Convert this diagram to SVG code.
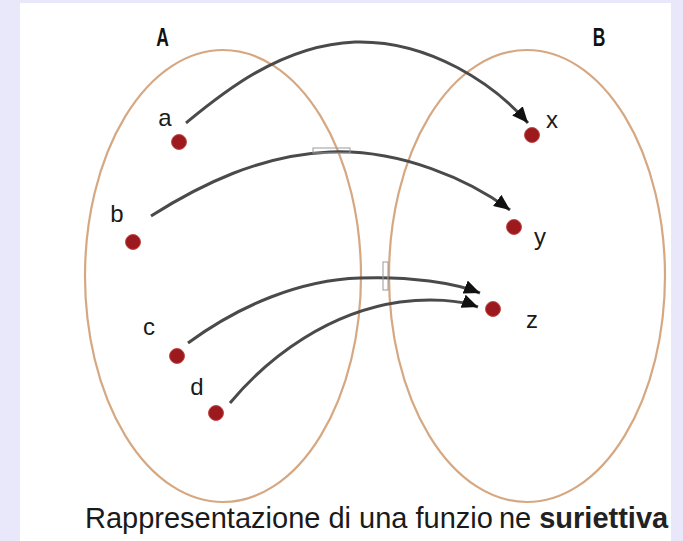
<svg xmlns="http://www.w3.org/2000/svg" width="683" height="541" viewBox="0 0 683 541">
<style>
.set{fill:none;stroke:#d6a882;stroke-width:2.2}
.lbl{font-family:"Liberation Sans",Arial,sans-serif;font-size:24px;fill:#1a1a1a;text-anchor:middle}
.setlbl{font-family:"Liberation Sans",Arial,sans-serif;font-size:25px;font-weight:bold;fill:#111;text-anchor:middle}
.dot{fill:#9c1a1e;stroke:#c24a4a;stroke-width:1}
.arr{fill:none;stroke:#4a4a4a;stroke-width:3;marker-end:url(#ah)}
.art{fill:none;stroke:#9a9a9a;stroke-width:1}
</style>
<defs>
<marker id="ah" markerUnits="userSpaceOnUse" markerWidth="18" markerHeight="14" refX="16" refY="7" orient="auto">
<path d="M0,0 L16,7 L0,14 Z" fill="#111"/>
</marker>
</defs>
<rect x="0" y="0" width="683" height="541" fill="#e9e7fa"/>
<rect x="20" y="3" width="651" height="538" fill="#ffffff"/>
<g id="setA">
<ellipse class="set" cx="223" cy="276" rx="138" ry="226"/>
<text class="setlbl" transform="translate(162.5,46) scale(0.7,1)">A</text>
</g>
<g id="setB">
<ellipse class="set" cx="527" cy="276" rx="138" ry="226"/>
<text class="setlbl" transform="translate(599,46) scale(0.7,1)">B</text>
</g>
<g id="connectors">
<path class="arr" d="M186,123 C220,95 280,45 355,42 C430,40 495,85 528,123"/>
<path class="arr" d="M151,216 C200,185 260,155 330,152 C400,149 470,180 510,210"/>
<path class="arr" d="M188,343 C240,305 300,280 360,278 C410,276 455,283 480,293"/>
<path class="arr" d="M230,403 C270,355 330,312 400,302 C430,298 460,300 478,307"/>
<rect class="art" x="313" y="148" width="37" height="5"/>
<rect class="art" x="383" y="262" width="5" height="28"/>
</g>
<g id="node-a"><circle class="dot" cx="179" cy="142" r="7.5"/><text class="lbl" x="165" y="126">a</text></g>
<g id="node-b"><circle class="dot" cx="133" cy="242" r="7.5"/><text class="lbl" x="117" y="222">b</text></g>
<g id="node-c"><circle class="dot" cx="177" cy="356" r="7.5"/><text class="lbl" x="149" y="335">c</text></g>
<g id="node-d"><circle class="dot" cx="216" cy="413" r="7.5"/><text class="lbl" x="197" y="395">d</text></g>
<g id="node-x"><circle class="dot" cx="532" cy="135" r="7.5"/><text class="lbl" x="552" y="128">x</text></g>
<g id="node-y"><circle class="dot" cx="514" cy="227" r="7.5"/><text class="lbl" x="540" y="245">y</text></g>
<g id="node-z"><circle class="dot" cx="493" cy="309" r="7.5"/><text class="lbl" x="532" y="328">z</text></g>
<g id="caption">
<text x="85" y="528" font-family="'Liberation Sans',Arial,sans-serif" font-size="29" fill="#1a1a1a">Rappresentazione di una funzio<tspan dx="6">ne </tspan><tspan font-weight="bold" fill="#222">suriettiva</tspan></text>
</g>
</svg>
